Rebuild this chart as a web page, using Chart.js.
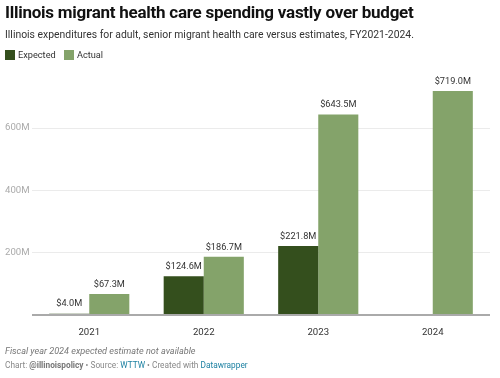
<!DOCTYPE html>
<html>
<head>
<meta charset="utf-8">
<script src="https://cdn.jsdelivr.net/npm/chart.js@4.4.0/dist/chart.umd.min.js"></script>
<style>
  body { margin: 0; background: #fff; font-family: Roboto, "Noto Sans", sans-serif; }
  #wrap { position: relative; width: 500px; height: 378px; overflow: hidden; }
  #chart { position: absolute; left: 0; top: 0; }
  .title { position: absolute; left: 5px; top: 2px; font-size: 17px; font-weight: 700; color: #111; letter-spacing: -0.25px; }
  .sub { position: absolute; left: 5px; top: 28px; font-size: 10.4px; color: #333; }
  .legend { position: absolute; left: 5px; top: 49px; font-size: 9.2px; color: #333; }
  .legend span.box { display: inline-block; width: 10px; height: 10px; vertical-align: -2px; margin-right: 3px; }
  .legend span.item { margin-right: 6px; }
  .note { position: absolute; left: 5px; top: 346px; font-size: 9.1px; font-style: italic; color: #777; }
  .src { position: absolute; left: 5px; top: 360px; font-size: 8.3px; color: #888; }
  .src b { color: #777; }
  .src a { color: #1d81a2; text-decoration: none; }
</style>
</head>
<body>
<div id="wrap">
  <canvas id="chart" width="500" height="378"></canvas>
  <div class="title">Illinois migrant health care spending vastly over budget</div>
  <div class="sub">Illinois expenditures for adult, senior migrant health care versus estimates, FY2021-2024.</div>
  <div class="legend">
    <span class="item"><span class="box" style="background:#344f1d"></span>Expected</span>
    <span class="item"><span class="box" style="background:#84a36a"></span>Actual</span>
  </div>
  <div class="note">Fiscal year 2024 expected estimate not available</div>
  <div class="src">Chart: <b>@illinoispolicy</b> • Source: <a>WTTW</a> • Created with <a>Datawrapper</a></div>
</div>
<script>
// Data
const years = ["2021", "2022", "2023", "2024"];
const expected = [4.0, 124.6, 221.8, null];
const actual = [67.3, 186.7, 643.5, 719.0];
const yTicks = [0, 200, 400, 600];

const darkGreen = "#344f1d";
const lightGreen = "#84a36a";

// value labels above each bar
const barLabels = {
    id: "barLabels",
    afterDatasetsDraw(chart) {
        const ctx = chart.ctx;
        ctx.save();
        ctx.font = "9.2px Roboto, sans-serif";
        ctx.fillStyle = "#333";
        ctx.textAlign = "center";
        ctx.textBaseline = "bottom";
        chart.data.datasets.forEach((ds, i) => {
            chart.getDatasetMeta(i).data.forEach((bar, j) => {
                const v = ds.data[j];
                if (v === null) return;
                ctx.fillText("$" + v.toFixed(1) + "M", bar.x, bar.y - 5);
            });
        });
        ctx.restore();
    }
};

const ctx = document.getElementById("chart").getContext("2d");

new Chart(ctx, {
    type: "bar",
    data: {
        labels: years,
        datasets: [
            { label: "Expected", data: expected, backgroundColor: darkGreen },
            { label: "Actual", data: actual, backgroundColor: lightGreen }
        ]
    },
    options: {
        responsive: false,
        animation: false,
        events: [],
        layout: { padding: { top: 91, right: 10, left: 5, bottom: 0 } },
        datasets: { bar: { barPercentage: 1, categoryPercentage: 0.7 } },
        plugins: {
            legend: { display: false },
            tooltip: { enabled: false }
        },
        scales: {
            x: {
                grid: { display: false },
                border: { display: false },
                ticks: { color: "#333", font: { size: 9.6, family: "Roboto" }, padding: 4 },
                afterFit(scale) { scale.height = 63; }
            },
            y: {
                min: 0,
                max: 719,
                afterBuildTicks(scale) {
                    scale.ticks = yTicks.map(v => ({ value: v }));
                },
                afterFit(scale) { scale.width = 27; },
                border: { display: false },
                grid: {
                    color: c => c.tick.value === 0 ? "#aaa" : "#ebebeb",
                    lineWidth: c => c.tick.value === 0 ? 2 : 1,
                    drawTicks: false
                },
                ticks: {
                    color: "#aaa",
                    font: { size: 9.6, family: "Roboto" },
                    padding: 0,
                    crossAlign: "far",
                    callback: v => v === 0 ? "" : v + "M"
                }
            }
        }
    },
    plugins: [barLabels]
});
</script>
</body>
</html>
